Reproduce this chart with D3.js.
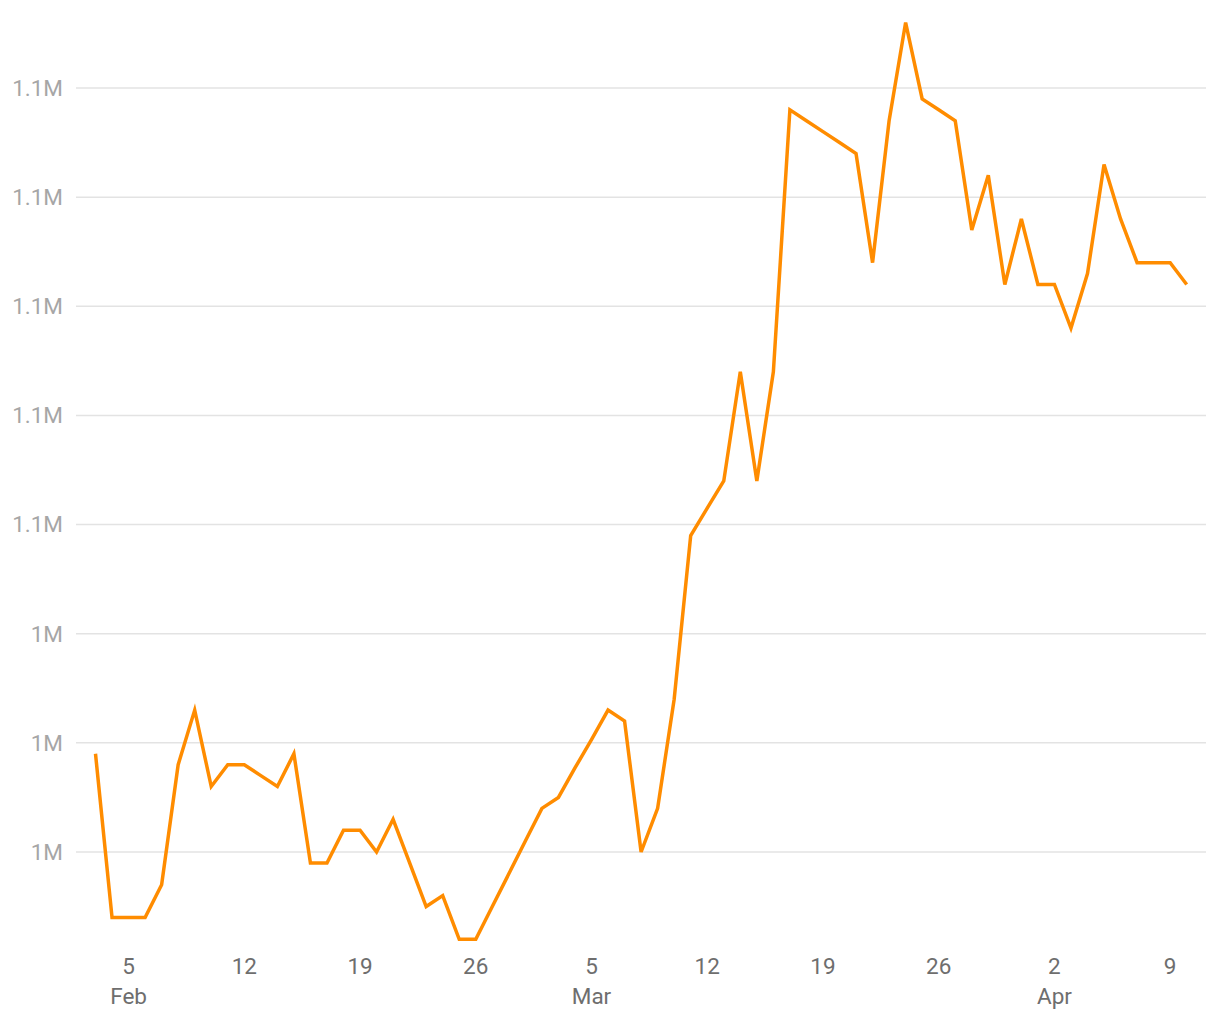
<!DOCTYPE html>
<html><head><meta charset="utf-8">
<script src="https://cdn.jsdelivr.net/npm/d3@7"></script>
<style>body{margin:0;background:#fff;} text{font-family:Roboto,sans-serif;}</style>
</head><body><svg id="c" width="1220" height="1020"></svg>
<script>
const startDate = "2023-02-03";
const values = [
  1.029,1.014,1.014,1.014,1.017,1.028,1.033,1.026,1.028,1.028,1.027,1.026,1.029,1.019,1.019,1.022,1.022,1.020,1.023,1.019,1.015,1.016,1.012,1.012,
  1.015,1.018,1.021,1.024,1.025,1.0277,1.0303,1.033,1.032,1.020,1.024,1.034,1.049,1.0515,1.054,1.064,1.054,1.064,
  1.088,1.087,1.086,1.085,1.084,1.074,1.087,1.096,1.089,1.088,1.087,1.077,1.082,1.072,1.078,1.072,1.072,1.068,1.073,1.083,1.078,1.074,1.074,1.074,1.072
].map(v => v * 1e6);
const yTicks = [1.02e6,1.03e6,1.04e6,1.05e6,1.06e6,1.07e6,1.08e6,1.09e6];

const parse = d3.timeParse("%Y-%m-%d");
const t0 = parse(startDate);
const data = values.map((v, i) => ({date: d3.timeDay.offset(t0, i), value: v}));

const svg = d3.select("#c");
const x = d3.scaleTime().domain([data[0].date, data[data.length-1].date]).range([95.5, 1186.7]);
const y = d3.scaleLinear().domain([1.02e6, 1.09e6]).range([852, 88]);
const fmt = d3.format(".2~s");

// grid + y labels
const g = svg.append("g");
g.selectAll("line.grid").data(yTicks).join("line")
  .attr("x1", 76).attr("x2", 1206)
  .attr("y1", d => y(d)).attr("y2", d => y(d))
  .attr("stroke", "#e3e3e3").attr("stroke-width", 1.5);
g.selectAll("text.yl").data(yTicks).join("text")
  .attr("x", 63).attr("y", d => y(d)).attr("dy", "0.35em")
  .attr("text-anchor", "end").attr("fill", "#a6a6a6").attr("font-size", 22.5)
  .text(d => fmt(d));

// x axis labels
const xTicks = d3.timeWeek.range(data[0].date, d3.timeDay.offset(data[data.length-1].date, 1));
const xa = svg.append("g");
xa.selectAll("text.d").data(xTicks).join("text")
  .attr("x", d => x(d)).attr("y", 974)
  .attr("text-anchor", "middle").attr("fill", "#6e6e6e").attr("font-size", 22.5)
  .text(d => d3.timeFormat("%-d")(d));
const monthTicks = xTicks.filter((d, i) => i === 0 || d.getMonth() !== xTicks[i-1].getMonth());
xa.selectAll("text.m").data(monthTicks).join("text")
  .attr("x", d => x(d)).attr("y", 1004)
  .attr("text-anchor", "middle").attr("fill", "#6e6e6e").attr("font-size", 22.5)
  .text(d => d3.timeFormat("%b")(d));

// line
const line = d3.line().x(d => x(d.date)).y(d => y(d.value));
svg.append("path").datum(data).attr("d", line)
  .attr("fill", "none").attr("stroke", "#ff8c00").attr("stroke-width", 3.5)
  .attr("stroke-linejoin", "miter");
</script></body></html>
